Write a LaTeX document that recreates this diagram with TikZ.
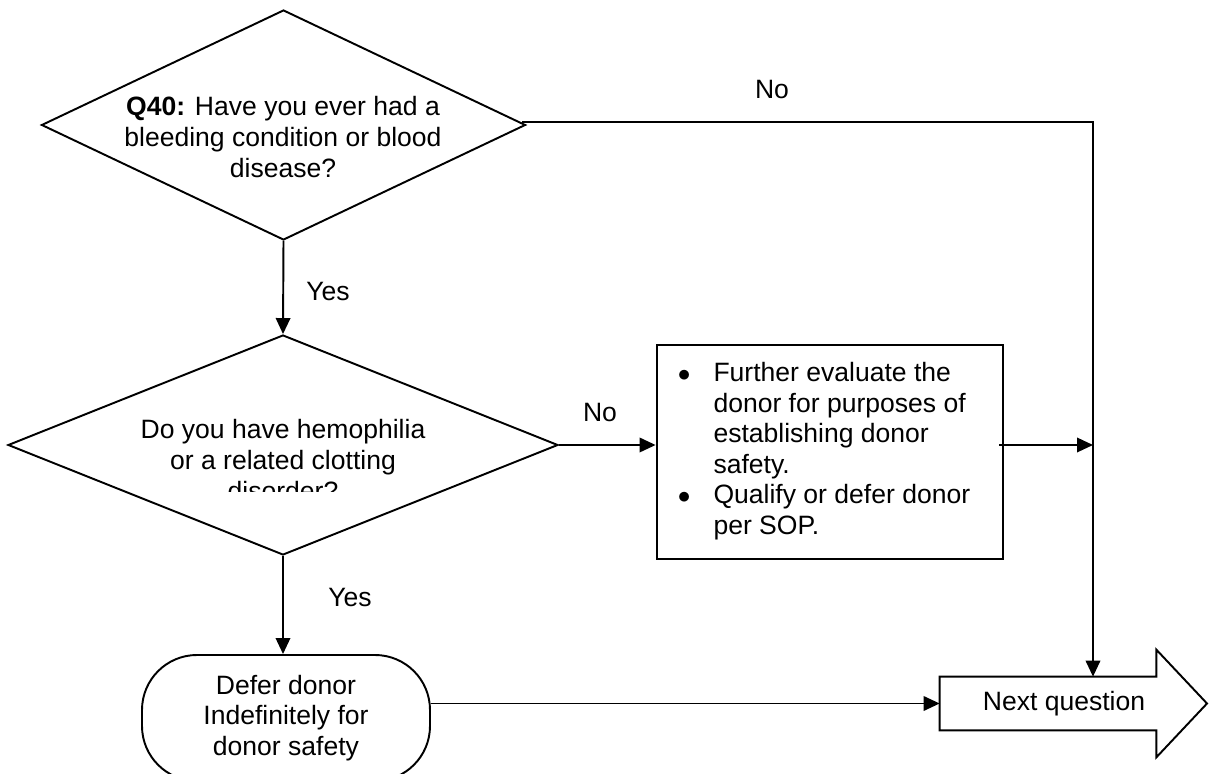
\documentclass[tikz,border=0pt]{standalone}
\usepackage{fontspec}
\setmainfont{Liberation Sans}
\usetikzlibrary{arrows.meta,shapes.geometric}

\begin{document}
\begin{tikzpicture}[
    >={Triangle[length=3.2mm,width=2.9mm]},
    font=\fontsize{15.1}{17.4}\selectfont,
    % --- boxes -------------------------------------------------------
    decision/.style={diamond,draw,line width=1.1pt,inner sep=0pt},
    qtext/.style={align=center,inner sep=0pt},
    actbox/.style={rectangle,draw,line width=1.6pt,inner sep=0pt,
                   minimum width=6.92cm,minimum height=4.28cm},
    terminal/.style={rectangle,draw,rounded corners=1.1cm,line width=1.1pt,
                     minimum width=5.76cm,minimum height=2.52cm,align=center},
    nextbody/.style={rectangle,inner sep=0pt,
                     minimum width=4.32cm,minimum height=1.06cm},
    % --- connectors and labels ---------------------------------------
    flow/.style={->,line width=1.1pt},
    outline/.style={line width=1.1pt,line join=miter},
    ans/.style={inner sep=1pt},
  ]

\useasboundingbox (0,0) rectangle (24.18,-15.48);
\clip (0,0) rectangle (24.18,-15.48);

% =====================================================================
%  Questions
% =====================================================================
\node[decision,minimum width=9.68cm,minimum height=4.60cm] (q40) at (5.67,-2.50) {};
\node[qtext] (q40txt) at (5.66,-2.74)
     {\textbf{Q40:} Have you ever had a\\bleeding condition or blood\\disease?};

\node[decision,minimum width=11.0cm,minimum height=4.40cm] (hemo) at (5.66,-8.90) {};
\begin{scope}
  \clip (0,-6.6) rectangle (12,-9.83);
  \node[qtext] (hemotxt) at (5.66,-9.20)
       {Do you have hemophilia\\or a related clotting\\disorder?};
\end{scope}

% =====================================================================
%  Outcomes
% =====================================================================
\node[actbox] (eval) at (16.60,-9.04)
     {\begin{tabular}{@{}c@{\hspace{0.46cm}}l@{\hspace{0.24cm}}}
      $\bullet$ & Further evaluate the\\
                & donor for purposes of\\
                & establishing donor\\
                & safety.\\
      $\bullet$ & Qualify or defer donor\\
                & per SOP.
      \end{tabular}};

\node[terminal] (defer) at (5.72,-14.36)
     {Defer donor\\Indefinitely for\\donor safety};

% ---- next question block arrow --------------------------------------
\node[nextbody] (nextq) at (20.96,-14.07) {};
\coordinate (tip) at (24.14,-14.07);
\draw[outline] (nextq.north west) -- (nextq.north east) -- ++(0,0.54)
   -- (tip) -- ([yshift=-0.54cm]nextq.south east) -- (nextq.south east)
   -- (nextq.south west) -- cycle;
\node (nextlbl) at ([xshift=0.32cm]nextq.center) {Next question};

% =====================================================================
%  Connectors
% =====================================================================
\coordinate (rail) at (21.86,-2.44);

\draw[flow] (q40.south) -- (hemo.north);
\draw[flow] ([shift={(-0.08,0.06)}]q40.east) -| (rail |- nextq.north);
\draw[flow] (hemo.east) -- (hemo.east -| eval.west);
\draw[flow] ([xshift=-1mm]eval.east |- hemo.east) -- (rail |- hemo.east);
\draw[flow] (hemo.south) -- (hemo.south |- defer.north);
\draw[flow] (defer.east |- nextq.west) -- (nextq.west);

% ---- answers ---------------------------------------------------------
\node[ans] (no1) at (15.44,-1.80) {No};
\node[ans] (yes1) at (6.56,-5.84) {Yes};
\node[ans] (no2) at (12.00,-8.26) {No};
\node[ans] (yes2) at (7.00,-11.96) {Yes};

\end{tikzpicture}
\end{document}
